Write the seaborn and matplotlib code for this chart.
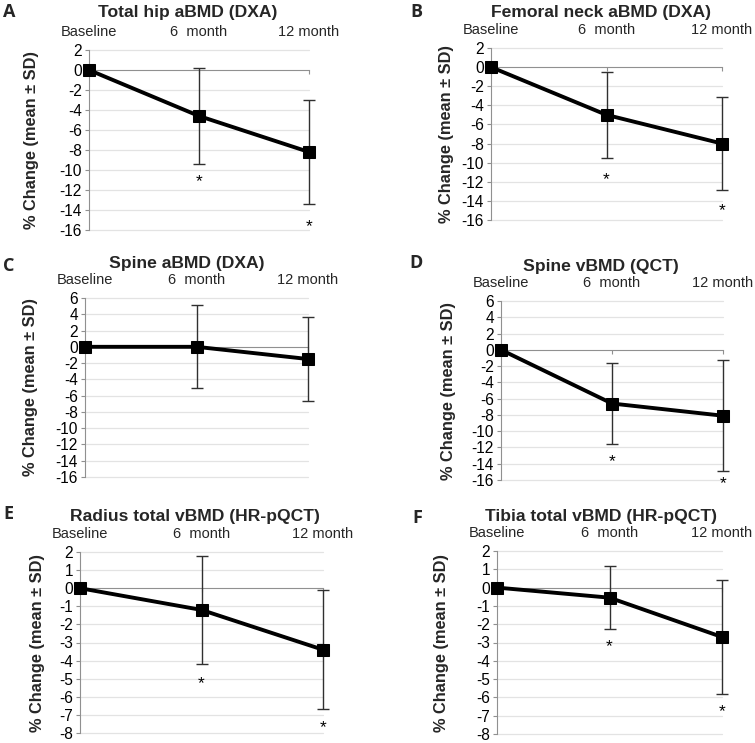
import numpy as np
import pandas as pd
import matplotlib
matplotlib.use("Agg")
import matplotlib.pyplot as plt
import seaborn as sns

sns.set_theme(style="white")
plt.rcParams['font.family'] = ['Liberation Sans', 'DejaVu Sans']

# ---------------- data ----------------
categories = ["Baseline", "6  month", "12 month"]
panel_letters = ["A", "B", "C", "D", "E", "F"]
titles = ["Total hip aBMD (DXA)", "Femoral neck aBMD (DXA)", "Spine aBMD (DXA)",
          "Spine vBMD (QCT)", "Radius total vBMD (HR-pQCT)", "Tibia total vBMD (HR-pQCT)"]

mean_A = [0.0, -4.6, -8.2]
sd_A = [0.0, 4.8, 5.2]
star_A = [None, -11.2, -15.7]

mean_B = [0.0, -5.0, -8.0]
sd_B = [0.0, 4.5, 4.9]
star_B = [None, -11.8, -15.0]

mean_C = [0.0, 0.0, -1.5]
sd_C = [0.0, 5.1, 5.2]
star_C = [None, None, None]

mean_D = [0.0, -6.6, -8.1]
sd_D = [0.0, 5.0, 6.8]
star_D = [None, -13.7, -16.4]

mean_E = [0.0, -1.2, -3.4]
sd_E = [0.0, 3.0, 3.3]
star_E = [None, -5.25, -7.7]

mean_F = [0.0, -0.55, -2.7]
sd_F = [0.0, 1.72, 3.1]
star_F = [None, -3.25, -6.8]

ylims = [(-16, 2), (-16, 2), (-16, 6), (-16, 6), (-8, 2), (-8, 2)]
ysteps = [2, 2, 2, 2, 1, 1]

means = [mean_A, mean_B, mean_C, mean_D, mean_E, mean_F]
sds = [sd_A, sd_B, sd_C, sd_D, sd_E, sd_F]
stars = [star_A, star_B, star_C, star_D, star_E, star_F]

# ---------------- layout (pixels) ----------------
W, H = 755, 743
axes_px = [(89, 309, 50, 230), (491, 722, 48, 220), (85, 308, 298, 477),
           (501, 723, 301, 480), (80, 323, 552, 733), (497, 722, 551, 734)]
title_px = [(188, 13), (601, 13), (187, 264), (601, 266), (195, 516), (601, 517)]
letter_px = [(3, 12), (410, 12), (3, 266), (409, 263), (3, 514), (412, 518)]
ylabel_x_px = [39, 454, 38, 456, 45, 449]

fig = plt.figure(figsize=(W / 100, H / 100), dpi=100)
fig.patch.set_facecolor("white")

x = np.arange(len(categories))

for i in range(6):
    l, r, t, b = axes_px[i]
    ax = fig.add_axes([l / W, 1 - b / H, (r - l) / W, (b - t) / H])
    ax.set_facecolor("white")
    lo, hi = ylims[i]
    ticks = np.arange(lo, hi + 0.001, ysteps[i])
    ax.set_ylim(lo, hi)
    ax.set_yticks(ticks)
    ax.set_yticklabels([f"{int(v)}" for v in ticks], fontsize=11.2, color="black")
    for v in ticks:
        if v != 0:
            ax.axhline(v, color="#e3e3e3", lw=0.9, zorder=0)

    m = np.array(means[i])
    s = np.array(sds[i])
    eb = ax.errorbar(x, m, yerr=s, fmt="none", ecolor="#303030", elinewidth=1.0,
                     capsize=4.5, capthick=1.0, zorder=2)
    for art in list(eb.lines[1]) + list(eb.lines[2]):
        art.set_clip_on(False)
    df = pd.DataFrame({"x": x, "y": m})
    sns.lineplot(data=df, x="x", y="y", ax=ax, color="black", lw=2.8,
                 marker="s", markersize=8.5, markeredgecolor="black", zorder=3)
    for ln in ax.lines:
        ln.set_clip_on(False)

    for xi, sv in zip(x, stars[i]):
        if sv is not None:
            ax.text(xi, sv, "*", ha="center", va="center", fontsize=12.5,
                    color="black", clip_on=False)

    ax.set_xlim(0, 2)
    ax.set_xticks(x)
    ax.set_xticklabels(categories, fontsize=10.5)
    ax.xaxis.tick_top()
    ax.tick_params(axis="x", length=0, pad=8)
    ax.tick_params(axis="y", length=3, width=0.8, color="#909090", pad=2,
                   left=True, direction="out")
    ax.set_xlabel("")
    for sp in ["top", "right", "bottom"]:
        ax.spines[sp].set_visible(False)
    ax.spines["left"].set_color("#909090")
    ax.spines["left"].set_linewidth(0.8)

    sec = ax.secondary_xaxis(0, transform=ax.transData)
    sec.set_xticks(x)
    sec.set_xticklabels([])
    sec.tick_params(axis="x", length=3, width=0.8, color="#909090", direction="out")
    sec.spines["bottom"].set_color("#909090")
    sec.spines["bottom"].set_linewidth(0.8)

    ax.set_ylabel("% Change (mean ± SD)", fontsize=11.8, fontweight="bold")
    ax.yaxis.set_label_coords((ylabel_x_px[i] - l) / (r - l), 0.5)

    tx, ty = title_px[i]
    fig.text(tx / W, 1 - ty / H, titles[i], ha="center", va="center",
             fontsize=12.6, fontweight="bold")
    lx, ly = letter_px[i]
    fig.text(lx / W, 1 - ly / H, panel_letters[i], ha="left", va="center",
             fontsize=13, fontweight="bold", family=["Open Sans", "DejaVu Sans"])

fig.savefig("out.png", dpi=100, facecolor="white")
